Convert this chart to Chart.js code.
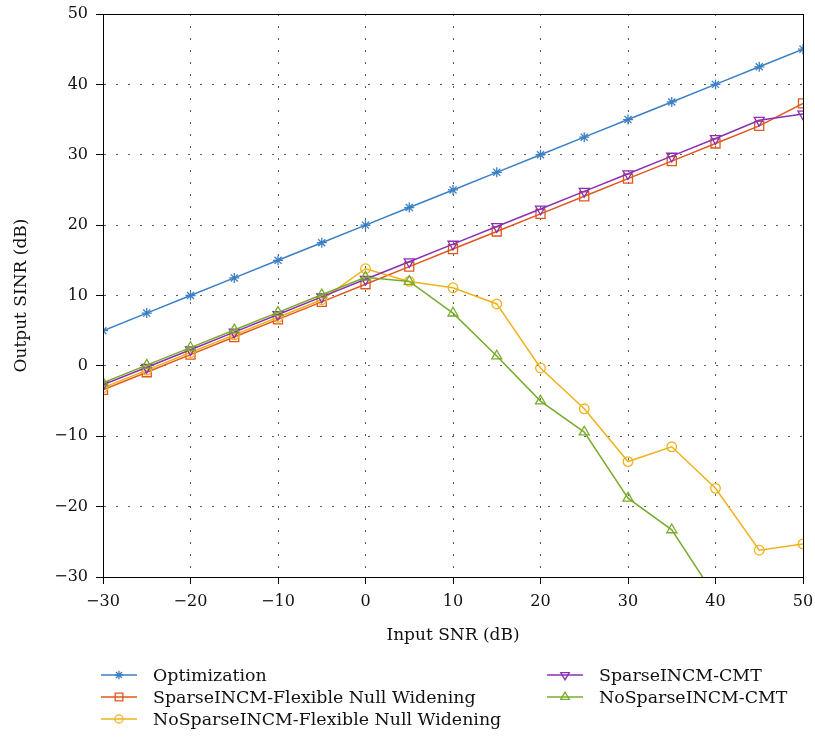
<!DOCTYPE html>
<html>
<head>
<meta charset="utf-8">
<script src="https://cdn.jsdelivr.net/npm/chart.js@4/dist/chart.umd.min.js"></script>
<style>
  html, body { margin: 0; padding: 0; background: #fff; }
  #wrap { width: 815px; height: 738px; }
</style>
</head>
<body>
<div id="wrap"><canvas id="c" width="815" height="738"></canvas></div>
<script>
// Input SNR sweep (dB)
const inputSnr = [-30, -25, -20, -15, -10, -5, 0, 5, 10, 15, 20, 25, 30, 35, 40, 45, 50];

// Output SINR (dB) per beamformer
const optimization = [5, 7.5, 10, 12.5, 15, 17.5, 20, 22.5, 25, 27.5, 30, 32.5, 35, 37.5, 40, 42.5, 45];
const sparseFnw    = [-3.4, -0.9, 1.6, 4.1, 6.6, 9.1, 11.6, 14.1, 16.6, 19.1, 21.6, 24.1, 26.6, 29.1, 31.6, 34.1, 37.3];
const noSparseFnw  = [-3.1, -0.6, 1.9, 4.4, 6.9, 9.4, 13.8, 12.0, 11.1, 8.8, -0.3, -6.1, -13.6, -11.5, -17.4, -26.2, -25.3];
const sparseCmt    = [-2.7, -0.2, 2.3, 4.8, 7.3, 9.8, 12.3, 14.8, 17.3, 19.8, 22.3, 24.8, 27.3, 29.8, 32.3, 34.9, 35.8];
const noSparseCmt  = [-2.4, 0.1, 2.6, 5.1, 7.6, 10.1, 12.6, 12.0, 7.5, 1.4, -5.0, -9.4, -18.8, -23.3, -32.8, null, null];

const seriesNames = [
  'Optimization',
  'SparseINCM-Flexible Null Widening',
  'NoSparseINCM-Flexible Null Widening',
  'SparseINCM-CMT',
  'NoSparseINCM-CMT'
];

const xTickValues = [-30, -20, -10, 0, 10, 20, 30, 40, 50];
const yTickValues = [-30, -20, -10, 0, 10, 20, 30, 40, 50];

const xTitle = 'Input SNR (dB)';
const yTitle = 'Output SINR (dB)';

const FONT = '"DejaVu Serif", "Liberation Serif", serif';

const styles = [
  { color: '#3b7fc4', point: 'star',     radius: 5,   rotation: 0 },
  { color: '#e2571c', point: 'rect',     radius: 6.4, rotation: 0 },
  { color: '#efb21b', point: 'circle',   radius: 4.8, rotation: 0 },
  { color: '#8a2fb4', point: 'triangle', radius: 5.8, rotation: 180 },
  { color: '#79ab2d', point: 'triangle', radius: 5.8, rotation: 0 }
];

const seriesValues = [optimization, sparseFnw, noSparseFnw, sparseCmt, noSparseCmt];

const datasets = seriesValues.map((vals, i) => ({
  label: seriesNames[i],
  data: inputSnr.map((x, k) => ({ x: x, y: vals[k] })),
  borderColor: styles[i].color,
  backgroundColor: 'rgba(0,0,0,0)',
  borderWidth: 1.5,
  pointStyle: styles[i].point,
  pointRadius: styles[i].radius,
  pointRotation: styles[i].rotation,
  pointBorderColor: styles[i].color,
  pointBackgroundColor: 'rgba(0,0,0,0)',
  pointBorderWidth: 1.3,
  tension: 0,
  spanGaps: false,
  order: seriesValues.length - i
}));

const fmt = v => String(v).replace('-', '\u2212');

// Frame, axis titles and a two-column legend under the plot
const decorations = {
  id: 'decorations',
  afterDatasetsDraw(chart) {
    const { ctx, chartArea: a } = chart;
    ctx.save();
    ctx.strokeStyle = '#000';
    ctx.lineWidth = 1;
    ctx.strokeRect(Math.round(a.left) + 0.5, Math.round(a.top) + 0.5,
                   Math.round(a.right - a.left), Math.round(a.bottom - a.top));
    ctx.restore();
  },
  afterDraw(chart) {
    const { ctx, chartArea: a } = chart;
    ctx.save();
    ctx.fillStyle = '#111';
    ctx.font = '17px ' + FONT;
    ctx.textAlign = 'center';
    ctx.textBaseline = 'middle';
    ctx.fillText(xTitle, (a.left + a.right) / 2, a.bottom + 59);

    ctx.save();
    ctx.translate(22, (a.top + a.bottom) / 2);
    ctx.rotate(-Math.PI / 2);
    ctx.fillText(yTitle, 0, 0);
    ctx.restore();

    // legend: column-wise, three rows
    const cols = [101, 547];
    const rows = [675, 697, 719];
    ctx.textAlign = 'left';
    ctx.font = '17.4px ' + FONT;
    chart.data.datasets.forEach((ds, i) => {
      const col = Math.floor(i / 3);
      const row = i % 3;
      const x0 = cols[col];
      const y = rows[row];
      ctx.strokeStyle = ds.borderColor;
      ctx.lineWidth = 1.5;
      ctx.beginPath();
      ctx.moveTo(x0, y);
      ctx.lineTo(x0 + 36, y);
      ctx.stroke();
      ctx.lineWidth = ds.pointBorderWidth;
      ctx.fillStyle = 'rgba(0,0,0,0)';
      Chart.helpers.drawPoint(ctx, {
        pointStyle: ds.pointStyle,
        rotation: ds.pointRotation,
        radius: ds.pointRadius * 0.85,
        borderWidth: ds.pointBorderWidth
      }, x0 + 18, y);
      ctx.fillStyle = '#111';
      ctx.fillText(ds.label, x0 + 52, y + 1);
    });
    ctx.restore();
  }
};

new Chart(document.getElementById('c'), {
  type: 'line',
  data: { datasets: datasets },
  plugins: [decorations],
  options: {
    responsive: false,
    animation: false,
    devicePixelRatio: 1,
    layout: { padding: { left: 0, top: 14, right: 12, bottom: 0 } },
    plugins: {
      legend: { display: false },
      tooltip: { enabled: false }
    },
    scales: {
      x: {
        type: 'linear',
        min: -30, max: 50,
        afterBuildTicks: s => { s.ticks = xTickValues.map(v => ({ value: v })); },
        afterFit: s => { s.height = 161; s.paddingLeft = 0; s.paddingRight = 0; },
        ticks: {
          callback: v => fmt(v),
          color: '#111',
          font: { family: FONT, size: 16 },
          padding: 8,
          maxRotation: 0,
          autoSkip: false
        },
        grid: {
          color: '#5e5e5e',
          lineWidth: 1,
          tickLength: 7,
          tickColor: '#000',
          tickWidth: 1
        },
        border: { display: true, color: '#000', width: 1, dash: [2, 10] }
      },
      y: {
        type: 'linear',
        min: -30, max: 50,
        afterBuildTicks: s => { s.ticks = yTickValues.map(v => ({ value: v })); },
        afterFit: s => { s.width = 103; s.paddingTop = 0; s.paddingBottom = 0; },
        ticks: {
          callback: v => fmt(v),
          color: '#111',
          font: { family: FONT, size: 16 },
          padding: 8,
          autoSkip: false
        },
        grid: {
          color: '#5e5e5e',
          lineWidth: 1,
          tickLength: 7,
          tickColor: '#000',
          tickWidth: 1
        },
        border: { display: true, color: '#000', width: 1, dash: [2, 10] }
      }
    }
  }
});
</script>
</body>
</html>
